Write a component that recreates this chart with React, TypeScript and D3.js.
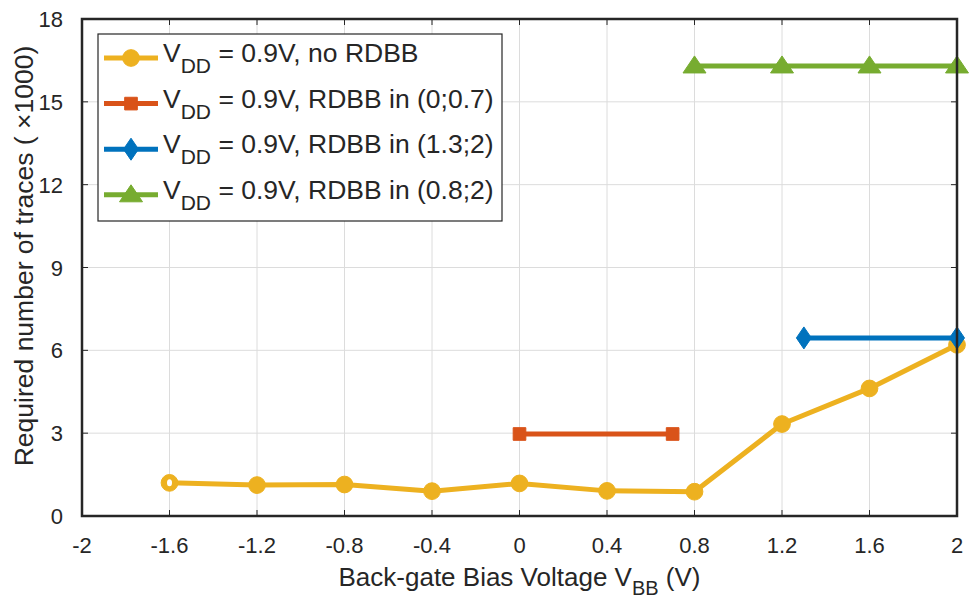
import React from "react";
import * as d3 from "d3";

const xTicks = [-2, -1.6, -1.2, -0.8, -0.4, 0, 0.4, 0.8, 1.2, 1.6, 2];
const yTicks = [0, 3, 6, 9, 12, 15, 18];

const noRdbbX = [-1.6, -1.2, -0.8, -0.4, 0, 0.4, 0.8, 1.2, 1.6, 2];
const noRdbbY = [1.2, 1.12, 1.14, 0.9, 1.18, 0.91, 0.88, 3.33, 4.62, 6.2];
const rdbb07X = [0, 0.7];
const rdbb07Y = [2.97, 2.97];
const rdbb132X = [1.3, 2];
const rdbb132Y = [6.45, 6.45];
const rdbb082X = [0.8, 1.2, 1.6, 2];
const rdbb082Y = [16.3, 16.3, 16.3, 16.3];

const seriesNames = [
  "= 0.9V, no RDBB",
  "= 0.9V, RDBB in (0;0.7)",
  "= 0.9V, RDBB in (1.3;2)",
  "= 0.9V, RDBB in (0.8;2)",
];

const W = 971;
const H = 602;
const M = { left: 82, right: 957, top: 19, bottom: 516 };
const FONT = "'Liberation Sans', Arial, Helvetica, sans-serif";

type Series = { xs: number[]; ys: number[]; color: string; shape: string; name: string };

const series: Series[] = [
  { xs: noRdbbX, ys: noRdbbY, color: "#EDB120", shape: "circle", name: seriesNames[0] },
  { xs: rdbb07X, ys: rdbb07Y, color: "#D95319", shape: "square", name: seriesNames[1] },
  { xs: rdbb132X, ys: rdbb132Y, color: "#0072BD", shape: "diamond", name: seriesNames[2] },
  { xs: rdbb082X, ys: rdbb082Y, color: "#77AC30", shape: "triangle", name: seriesNames[3] },
];

function markerPath(shape: string): string {
  if (shape === "circle") return d3.symbol(d3.symbolCircle, 220)() as string;
  if (shape === "square") return d3.symbol(d3.symbolSquare, 160)() as string;
  if (shape === "diamond") {
    return "M0,-11L7.5,0L0,11L-7.5,0Z";
  }
  return "M0,-10L11.5,7L-11.5,7Z";
}

export default function App() {
  const x = d3.scaleLinear().domain([-2, 2]).range([M.left, M.right]);
  const y = d3.scaleLinear().domain([0, 18]).range([M.bottom, M.top]);
  const line = d3
    .line<[number, number]>()
    .x((d) => x(d[0]))
    .y((d) => y(d[1]));
  const axisColor = "#262626";
  const legend = { x: 98, y: 34, w: 404, h: 187, row0: 58, step: 45.6 };

  return (
    <svg
      width={W}
      height={H}
      style={{ position: "absolute", left: 0, top: 0, background: "#fff" }}
      fontFamily={FONT}
    >
      <rect x={0} y={0} width={W} height={H} fill="#fff" />
      {/* grid */}
      {xTicks.map((t) => (
        <line key={"gx" + t} x1={x(t)} x2={x(t)} y1={M.top} y2={M.bottom} stroke="#dcdcdc" strokeWidth={1} />
      ))}
      {yTicks.map((t) => (
        <line key={"gy" + t} x1={M.left} x2={M.right} y1={y(t)} y2={y(t)} stroke="#dcdcdc" strokeWidth={1} />
      ))}
      {/* tick marks */}
      {xTicks.map((t) => (
        <g key={"tx" + t}>
          <line x1={x(t)} x2={x(t)} y1={M.bottom} y2={M.bottom - 6} stroke={axisColor} strokeWidth={1} />
          <line x1={x(t)} x2={x(t)} y1={M.top} y2={M.top + 6} stroke={axisColor} strokeWidth={1} />
        </g>
      ))}
      {yTicks.map((t) => (
        <g key={"ty" + t}>
          <line x1={M.left} x2={M.left + 6} y1={y(t)} y2={y(t)} stroke={axisColor} strokeWidth={1} />
          <line x1={M.right} x2={M.right - 6} y1={y(t)} y2={y(t)} stroke={axisColor} strokeWidth={1} />
        </g>
      ))}
      {/* series */}
      {series.map((s, i) => (
        <g key={"s" + i}>
          <path
            d={line(s.xs.map((v, j) => [v, s.ys[j]] as [number, number])) as string}
            fill="none"
            stroke={s.color}
            strokeWidth={5}
            strokeLinejoin="round"
          />
          {s.xs.map((v, j) => (
            <path
              key={j}
              d={markerPath(s.shape)}
              transform={`translate(${x(v)},${y(s.ys[j])})`}
              fill={s.color}
              stroke={s.color}
              strokeWidth={1}
            />
          ))}
        </g>
      ))}
      {/* hollow centre of first yellow marker */}
      <ellipse cx={x(noRdbbX[0])} cy={y(noRdbbY[0])} rx={2.5} ry={3.5} fill="#fff" />
      {/* frame */}
      <rect
        x={M.left}
        y={M.top}
        width={M.right - M.left}
        height={M.bottom - M.top}
        fill="none"
        stroke={axisColor}
        strokeWidth={2.5}
      />
      {/* tick labels */}
      {xTicks.map((t) => (
        <text key={"lx" + t} x={x(t)} y={553} textAnchor="middle" fontSize={22} fill={axisColor}>
          {String(t)}
        </text>
      ))}
      {yTicks.map((t) => (
        <text key={"ly" + t} x={63} y={y(t) + 8} textAnchor="end" fontSize={22} fill={axisColor}>
          {String(t)}
        </text>
      ))}
      {/* axis labels */}
      <text x={(M.left + M.right) / 2} y={586} textAnchor="middle" fontSize={26} fill={axisColor}>
        Back-gate Bias Voltage V
        <tspan fontSize={20} dy={9}>BB</tspan>
        <tspan dy={-9}> (V)</tspan>
      </text>
      <text
        transform={`translate(33,256) rotate(-90)`}
        textAnchor="middle"
        fontSize={26.5}
        fill={axisColor}
      >
        Required number of traces ( ×1000)
      </text>
      {/* legend */}
      <rect x={legend.x} y={legend.y} width={legend.w} height={legend.h} fill="#fff" stroke={axisColor} strokeWidth={1.2} />
      {series.map((s, i) => {
        const cy = legend.row0 + i * legend.step;
        return (
          <g key={"lg" + i}>
            <line x1={104} x2={158} y1={cy} y2={cy} stroke={s.color} strokeWidth={5} />
            <path d={markerPath(s.shape)} transform={`translate(131,${cy})`} fill={s.color} stroke={s.color} />
            <text x={163} y={cy + 4} fontSize={26.5} fill={axisColor}>
              V
              <tspan fontSize={21} dy={11}>DD</tspan>
              <tspan dy={-11}> {s.name}</tspan>
            </text>
          </g>
        );
      })}
    </svg>
  );
}
